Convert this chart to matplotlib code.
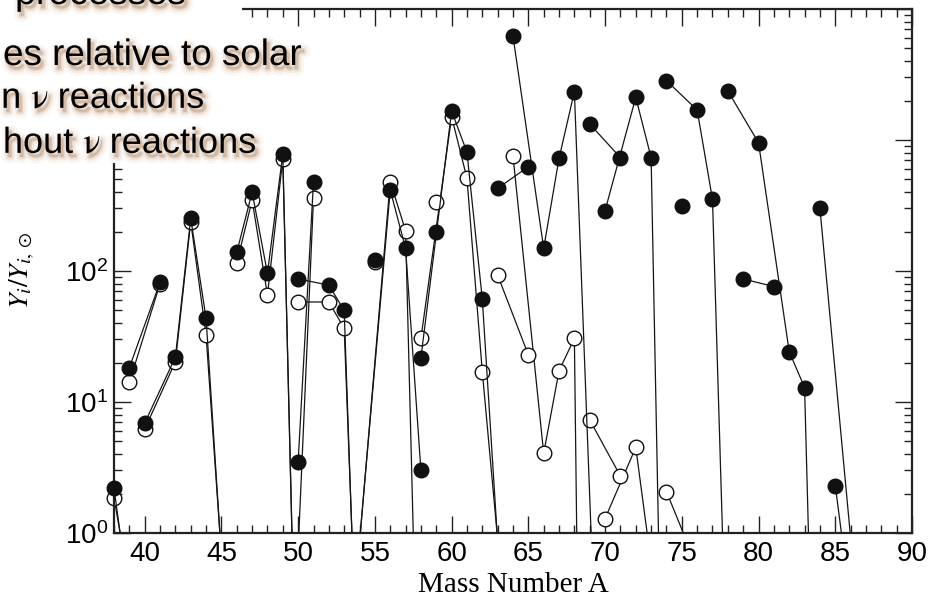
import numpy as np
import matplotlib
matplotlib.use('Agg')
import matplotlib.pyplot as plt
import matplotlib.patheffects as pe
from matplotlib.patches import Rectangle
from matplotlib.ticker import MultipleLocator, LogLocator, NullFormatter, FixedLocator

plt.rcParams['font.family'] = ['Liberation Sans', 'DejaVu Sans']
plt.rcParams['mathtext.fontset'] = 'stix'

# isotope chains (one list per element), abundances relative to solar
ELEMENTS = ['Ar', 'K', 'Ca', 'Ti', 'V', 'Cr', 'Mn', 'Fe', 'Co', 'Ni', 'Cu',
            'Zn', 'Ga', 'Ge', 'As', 'Se', 'Br', 'Kr', 'Rb', 'Sr']
MASSES = [[38, 40], [39, 41], [40, 42, 43, 44, 46], [46, 47, 48, 49, 50],
          [50, 51], [50, 52, 53, 54], [55], [54, 56, 57, 58], [59],
          [58, 60, 61, 62, 64], [63, 65], [64, 66, 67, 68, 70], [69, 71],
          [70, 72, 73, 74], [75], [74, 76, 77, 78], [79, 81],
          [78, 80, 82, 83, 84], [85, 87], [84, 86]]
WITH_NU = [[2.2, 0.042], [18.3, 82], [6.9, 22, 252, 43.5, 0.01],
           [139, 400, 96, 782, 0.0098], [3.5, 481], [87, 78, 50, 0.02],
           [121], [0.86, 415, 149, 3.0], [200], [21.8, 1665, 806, 61, 0.012],
           [428, 625], [6220, 149, 725, 2340, 0.0015], [1325, 733],
           [289, 2115, 733, 0.0008], [313], [2836, 1695, 352, 0.043],
           [87, 76], [2366, 953, 24.2, 12.9, 0.0005], [2.3, 0.036],
           [301, 0.92]]
WITHOUT_NU = [[1.86, 0.083], [14.1, 80], [6.2, 20.3, 238, 32.5, 0.014],
              [115, 348, 65.6, 716, 0.0125], [0.75, 359], [58, 58, 36.5, 0.03],
              [118], [0.85, 481, 203, 0.005], [334], [30.6, 1506, 510, 17, 0.047],
              [93, 22.9], [755, 4.06, 17.3, 30.6, 1e-18], [7.3, 2.72],
              [1.29, 4.5, 0.59, 0.01], [np.nan], [2.07, 0.55, np.nan, np.nan],
              [np.nan, np.nan], [np.nan] * 5, [np.nan, np.nan], [np.nan, np.nan]]

X_TICKS = [40, 45, 50, 55, 60, 65, 70, 75, 80, 85, 90]
Y_LABELLED = [1, 10, 100]
Y_DECADES = [1, 10, 100, 1000, 10000]

W, H = 945, 599
fig = plt.figure(figsize=(W / 100, H / 100), dpi=100)
ax = fig.add_axes([114 / W, 1 - 533 / H, (912 - 114) / W, (533 - 9) / H])


def draw_chains(values, face, z):
    for masses, vals in zip(MASSES, values):
        m = np.array(masses, dtype=float)
        v = np.array(vals, dtype=float)
        ax.plot(m, v, '-', color='#151515', lw=0.9, zorder=z)
        keep = v >= 1
        ax.plot(m[keep], v[keep], 'o', ms=10.5, mfc=face, mec='#111111',
                mew=1.0, zorder=z + 0.5, clip_on=False)


draw_chains(WITHOUT_NU, 'white', 2)
draw_chains(WITH_NU, '#111111', 3)

ax.set_yscale('log')
ax.set_xlim(38, 90)
ax.set_ylim(1, 1e4)
ax.set_xticks(X_TICKS)
ax.xaxis.set_minor_locator(MultipleLocator(1))
ax.yaxis.set_major_locator(FixedLocator(Y_DECADES))
ax.yaxis.set_minor_locator(LogLocator(base=10, subs=np.arange(2, 10), numticks=10))
ax.yaxis.set_minor_formatter(NullFormatter())
ax.set_yticklabels([r'$\mathdefault{10^{%d}}$' % int(np.log10(v)) if v in Y_LABELLED else ''
                    for v in Y_DECADES])

ax.tick_params(which='both', direction='in', top=True, right=True,
               color='#222222', width=1.0)
ax.tick_params(which='major', length=12, labelsize=20, pad=6)
ax.tick_params(which='minor', length=6)
ax.tick_params(axis='y', which='major', pad=4)
for s in ax.spines.values():
    s.set_linewidth(1.6)
    s.set_color('#222222')

ax.set_xlabel('Mass Number A', family='Liberation Serif', fontsize=21, labelpad=3)
ax.set_ylabel(r'$Y_i/Y_{i,\odot}$', fontsize=20)
ax.yaxis.set_label_coords(-0.097, 0.5)

# text box of the slide sits over the upper-left corner of the plot
fig.add_artist(Rectangle((0, 1 - 163 / H), 242 / W, 163 / H, transform=fig.transFigure,
                         facecolor='white', edgecolor='none', zorder=10))


class Halo(pe.AbstractPathEffect):
    def __init__(self, offset, width, color, alpha):
        super().__init__(offset)
        self.width = width
        self.color = matplotlib.colors.to_rgb(color)
        self.alpha = alpha

    def draw_path(self, renderer, gc, tpath, affine, rgbFace=None):
        gc0 = renderer.new_gc()
        gc0.copy_properties(gc)
        gc0.set_linewidth(self.width)
        gc0.set_foreground(self.color)
        gc0.set_alpha(self.alpha)
        renderer.draw_path(gc0, tpath, affine + self._offset_transform(renderer),
                           self.color)
        gc0.restore()


glow = [Halo((2, -3), 9, '#c9a07c', 0.08), Halo((2, -3), 5, '#b98a62', 0.12),
        Halo((2, -3), 2, '#a87a52', 0.18), pe.Normal()]

lines = [('processes', 15, 4, 'left', 27),
         ('es relative to solar', 301, 65, 'right', 26.5),
         (r'n $\mathrm{\nu}$ reactions', 205, 108, 'right', 26),
         (r'hout $\mathrm{\nu}$ reactions', 257, 153, 'right', 26)]
for txt, x, y, ha, fs in lines:
    t = fig.text(x / W, 1 - y / H, txt, ha=ha, va='baseline', fontsize=fs,
                 color='black', zorder=11)
    t.set_path_effects(glow)

fig.savefig('out.png', dpi=100)
